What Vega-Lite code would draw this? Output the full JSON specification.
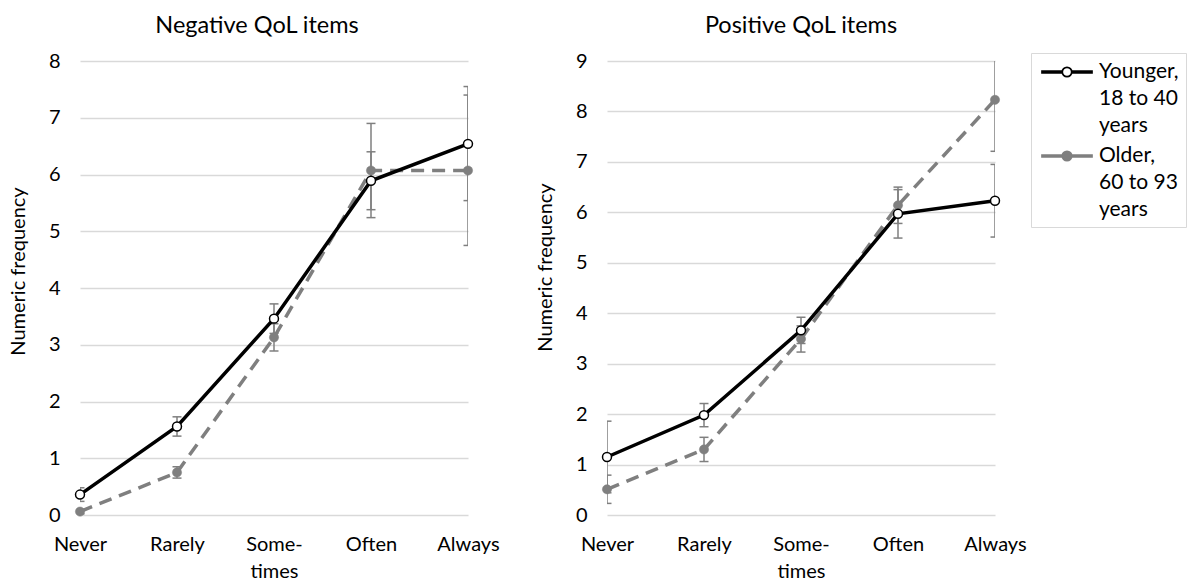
{
  "$schema": "https://vega.github.io/schema/vega-lite/v6.json",
  "padding": {"left": 8, "top": 13, "right": 0, "bottom": 0},
  "background": "#ffffff",
  "data": {"values": [
    {"panel": "Negative", "cat": "Never", "group": "Younger, 18 to 40 years", "value": 0.36, "lower": 0.24, "upper": 0.48},
    {"panel": "Negative", "cat": "Rarely", "group": "Younger, 18 to 40 years", "value": 1.56, "lower": 1.39, "upper": 1.73},
    {"panel": "Negative", "cat": "Sometimes", "group": "Younger, 18 to 40 years", "value": 3.46, "lower": 3.2, "upper": 3.72},
    {"panel": "Negative", "cat": "Often", "group": "Younger, 18 to 40 years", "value": 5.89, "lower": 5.38, "upper": 6.4},
    {"panel": "Negative", "cat": "Always", "group": "Younger, 18 to 40 years", "value": 6.54, "lower": 5.54, "upper": 7.55},
    {"panel": "Negative", "cat": "Never", "group": "Older, 60 to 93 years", "value": 0.06, "lower": 0.02, "upper": 0.1},
    {"panel": "Negative", "cat": "Rarely", "group": "Older, 60 to 93 years", "value": 0.75, "lower": 0.65, "upper": 0.85},
    {"panel": "Negative", "cat": "Sometimes", "group": "Older, 60 to 93 years", "value": 3.13, "lower": 2.89, "upper": 3.37},
    {"panel": "Negative", "cat": "Often", "group": "Older, 60 to 93 years", "value": 6.07, "lower": 5.24, "upper": 6.9},
    {"panel": "Negative", "cat": "Always", "group": "Older, 60 to 93 years", "value": 6.07, "lower": 4.75, "upper": 7.4},
    {"panel": "Positive", "cat": "Never", "group": "Younger, 18 to 40 years", "value": 1.15, "lower": 0.44, "upper": 1.86},
    {"panel": "Positive", "cat": "Rarely", "group": "Younger, 18 to 40 years", "value": 1.98, "lower": 1.75, "upper": 2.21},
    {"panel": "Positive", "cat": "Sometimes", "group": "Younger, 18 to 40 years", "value": 3.66, "lower": 3.4, "upper": 3.92},
    {"panel": "Positive", "cat": "Often", "group": "Younger, 18 to 40 years", "value": 5.97, "lower": 5.49, "upper": 6.45},
    {"panel": "Positive", "cat": "Always", "group": "Younger, 18 to 40 years", "value": 6.23, "lower": 5.51, "upper": 6.95},
    {"panel": "Positive", "cat": "Never", "group": "Older, 60 to 93 years", "value": 0.51, "lower": 0.23, "upper": 0.79},
    {"panel": "Positive", "cat": "Rarely", "group": "Older, 60 to 93 years", "value": 1.3, "lower": 1.06, "upper": 1.54},
    {"panel": "Positive", "cat": "Sometimes", "group": "Older, 60 to 93 years", "value": 3.49, "lower": 3.23, "upper": 3.75},
    {"panel": "Positive", "cat": "Often", "group": "Older, 60 to 93 years", "value": 6.14, "lower": 5.78, "upper": 6.5},
    {"panel": "Positive", "cat": "Always", "group": "Older, 60 to 93 years", "value": 8.23, "lower": 7.21, "upper": 9.25}
  ]},
  "hconcat": [
    {
      "width": 388, "height": 454,
      "title": {"text": "Negative QoL items", "dx": -17},
      "transform": [{"filter": "datum.panel === 'Negative'"}],
      "encoding": {
        "x": {"field": "cat", "type": "ordinal", "sort": ["Never", "Rarely", "Sometimes", "Often", "Always"], "scale": {"type": "point", "padding": 0}, "title": null,
              "axis": {"labelExpr": "datum.value === 'Sometimes' ? ['Some-', 'times'] : datum.value", "labelAngle": 0}}
      },
      "layer": [
        {"mark": {"type": "rule", "color": "#7f7f7f", "strokeWidth": 1.5, "clip": true},
         "encoding": {"y": {"field": "lower", "type": "quantitative", "scale": {"domain": [0, 8], "nice": false}, "title": "Numeric frequency", "axis": {"values": [0, 1, 2, 3, 4, 5, 6, 7, 8], "format": "d", "titleY": 210}}, "y2": {"field": "upper"}}},
        {"mark": {"type": "tick", "color": "#7f7f7f", "thickness": 1.5, "size": 9, "clip": true, "opacity": 1},
         "encoding": {"y": {"field": "lower", "type": "quantitative", "scale": {"domain": [0, 8], "nice": false}, "title": "Numeric frequency", "axis": {"values": [0, 1, 2, 3, 4, 5, 6, 7, 8], "format": "d", "titleY": 210}}}},
        {"mark": {"type": "tick", "color": "#7f7f7f", "thickness": 1.5, "size": 9, "clip": true, "opacity": 1},
         "encoding": {"y": {"field": "upper", "type": "quantitative", "scale": {"domain": [0, 8], "nice": false}, "title": "Numeric frequency", "axis": {"values": [0, 1, 2, 3, 4, 5, 6, 7, 8], "format": "d", "titleY": 210}}}},
        {"transform": [{"filter": "datum.group === 'Older, 60 to 93 years'"}],
         "mark": {"type": "line", "strokeWidth": 3.5, "strokeDash": [13, 8]},
         "encoding": {
           "y": {"field": "value", "type": "quantitative", "scale": {"domain": [0, 8], "nice": false}, "title": "Numeric frequency", "axis": {"values": [0, 1, 2, 3, 4, 5, 6, 7, 8], "format": "d", "titleY": 210}},
           "color": {"field": "group", "type": "nominal", "scale": {"domain": ["Younger, 18 to 40 years", "Older, 60 to 93 years"], "range": ["#000000", "#7f7f7f"]},
             "legend": {"orient": "none", "legendX": 951, "legendY": -8, "title": null,
               "symbolType": "M-2.27,-0.08H-0.43V0.08H-2.27Z M0.43,-0.08H2.27V0.08H0.43Z M0.43,0A0.43,0.43 0 1,1 -0.43,0A0.43,0.43 0 1,1 0.43,0Z",
               "symbolSize": 484, "symbolStrokeWidth": 1.75, "symbolOffset": 17, "labelOffset": 20,
               "labelFont": "Lato", "labelFontSize": 21, "labelColor": "#000000", "labelBaseline": "alphabetic", "labelLimit": 300,
               "labelExpr": "datum.value === 'Younger, 18 to 40 years' ? ['Younger,', '18 to 40', 'years'] : ['Older,', '60 to 93', 'years']",
               "padding": 7, "strokeColor": "#d9d9d9", "fillColor": "#ffffff", "rowPadding": 8,
               "encode": {"labels": {"update": {"lineHeight": {"value": 27}, "dy": {"value": 6}}},
                          "symbols": {"update": {"fill": {"signal": "datum.value === 'Younger, 18 to 40 years' ? '#ffffff' : '#7f7f7f'"}, "opacity": {"value": 1}}}}}}
         }},
        {"transform": [{"filter": "datum.group === 'Younger, 18 to 40 years'"}],
         "mark": {"type": "line", "strokeWidth": 3.5},
         "encoding": {
           "y": {"field": "value", "type": "quantitative", "scale": {"domain": [0, 8], "nice": false}, "title": "Numeric frequency", "axis": {"values": [0, 1, 2, 3, 4, 5, 6, 7, 8], "format": "d", "titleY": 210}},
           "color": {"field": "group", "type": "nominal", "scale": {"domain": ["Younger, 18 to 40 years", "Older, 60 to 93 years"], "range": ["#000000", "#7f7f7f"]},
             "legend": {"orient": "none", "legendX": 951, "legendY": -8, "title": null,
               "symbolType": "M-2.27,-0.08H-0.43V0.08H-2.27Z M0.43,-0.08H2.27V0.08H0.43Z M0.43,0A0.43,0.43 0 1,1 -0.43,0A0.43,0.43 0 1,1 0.43,0Z",
               "symbolSize": 484, "symbolStrokeWidth": 1.75, "symbolOffset": 17, "labelOffset": 20,
               "labelFont": "Lato", "labelFontSize": 21, "labelColor": "#000000", "labelBaseline": "alphabetic", "labelLimit": 300,
               "labelExpr": "datum.value === 'Younger, 18 to 40 years' ? ['Younger,', '18 to 40', 'years'] : ['Older,', '60 to 93', 'years']",
               "padding": 7, "strokeColor": "#d9d9d9", "fillColor": "#ffffff", "rowPadding": 8,
               "encode": {"labels": {"update": {"lineHeight": {"value": 27}, "dy": {"value": 6}}},
                          "symbols": {"update": {"fill": {"signal": "datum.value === 'Younger, 18 to 40 years' ? '#ffffff' : '#7f7f7f'"}, "opacity": {"value": 1}}}}}}
         }},
        {"transform": [{"filter": "datum.group === 'Older, 60 to 93 years'"}],
         "mark": {"type": "point", "filled": true, "size": 85, "fill": "#7f7f7f", "stroke": "#7f7f7f", "strokeWidth": 0.5, "opacity": 1},
         "encoding": {"y": {"field": "value", "type": "quantitative", "scale": {"domain": [0, 8], "nice": false}, "title": "Numeric frequency", "axis": {"values": [0, 1, 2, 3, 4, 5, 6, 7, 8], "format": "d", "titleY": 210}}}},
        {"transform": [{"filter": "datum.group === 'Younger, 18 to 40 years'"}],
         "mark": {"type": "point", "filled": true, "size": 80, "fill": "#ffffff", "stroke": "#000000", "strokeWidth": 1.5, "opacity": 1},
         "encoding": {"y": {"field": "value", "type": "quantitative", "scale": {"domain": [0, 8], "nice": false}, "title": "Numeric frequency", "axis": {"values": [0, 1, 2, 3, 4, 5, 6, 7, 8], "format": "d", "titleY": 210}}}}
      ]
    },
    {
      "width": 388, "height": 454,
      "title": {"text": "Positive QoL items", "dx": 0},
      "transform": [{"filter": "datum.panel === 'Positive'"}],
      "encoding": {
        "x": {"field": "cat", "type": "ordinal", "sort": ["Never", "Rarely", "Sometimes", "Often", "Always"], "scale": {"type": "point", "padding": 0}, "title": null,
              "axis": {"labelExpr": "datum.value === 'Sometimes' ? ['Some-', 'times'] : datum.value", "labelAngle": 0}}
      },
      "layer": [
        {"mark": {"type": "rule", "color": "#7f7f7f", "strokeWidth": 1.5, "clip": true},
         "encoding": {"y": {"field": "lower", "type": "quantitative", "scale": {"domain": [0, 9], "nice": false}, "title": "Numeric frequency", "axis": {"values": [0, 1, 2, 3, 4, 5, 6, 7, 8, 9], "format": "d", "titleY": 206}}, "y2": {"field": "upper"}}},
        {"mark": {"type": "tick", "color": "#7f7f7f", "thickness": 1.5, "size": 9, "clip": true, "opacity": 1},
         "encoding": {"y": {"field": "lower", "type": "quantitative", "scale": {"domain": [0, 9], "nice": false}, "title": "Numeric frequency", "axis": {"values": [0, 1, 2, 3, 4, 5, 6, 7, 8, 9], "format": "d", "titleY": 206}}}},
        {"mark": {"type": "tick", "color": "#7f7f7f", "thickness": 1.5, "size": 9, "clip": true, "opacity": 1},
         "encoding": {"y": {"field": "upper", "type": "quantitative", "scale": {"domain": [0, 9], "nice": false}, "title": "Numeric frequency", "axis": {"values": [0, 1, 2, 3, 4, 5, 6, 7, 8, 9], "format": "d", "titleY": 206}}}},
        {"transform": [{"filter": "datum.group === 'Older, 60 to 93 years'"}],
         "mark": {"type": "line", "strokeWidth": 3.5, "strokeDash": [13, 8]},
         "encoding": {
           "y": {"field": "value", "type": "quantitative", "scale": {"domain": [0, 9], "nice": false}, "title": "Numeric frequency", "axis": {"values": [0, 1, 2, 3, 4, 5, 6, 7, 8, 9], "format": "d", "titleY": 206}},
           "color": {"field": "group", "type": "nominal", "scale": {"domain": ["Younger, 18 to 40 years", "Older, 60 to 93 years"], "range": ["#000000", "#7f7f7f"]},
             "legend": {"orient": "none", "legendX": 951, "legendY": -8, "title": null,
               "symbolType": "M-2.27,-0.08H-0.43V0.08H-2.27Z M0.43,-0.08H2.27V0.08H0.43Z M0.43,0A0.43,0.43 0 1,1 -0.43,0A0.43,0.43 0 1,1 0.43,0Z",
               "symbolSize": 484, "symbolStrokeWidth": 1.75, "symbolOffset": 17, "labelOffset": 20,
               "labelFont": "Lato", "labelFontSize": 21, "labelColor": "#000000", "labelBaseline": "alphabetic", "labelLimit": 300,
               "labelExpr": "datum.value === 'Younger, 18 to 40 years' ? ['Younger,', '18 to 40', 'years'] : ['Older,', '60 to 93', 'years']",
               "padding": 7, "strokeColor": "#d9d9d9", "fillColor": "#ffffff", "rowPadding": 8,
               "encode": {"labels": {"update": {"lineHeight": {"value": 27}, "dy": {"value": 6}}},
                          "symbols": {"update": {"fill": {"signal": "datum.value === 'Younger, 18 to 40 years' ? '#ffffff' : '#7f7f7f'"}, "opacity": {"value": 1}}}}}}
         }},
        {"transform": [{"filter": "datum.group === 'Younger, 18 to 40 years'"}],
         "mark": {"type": "line", "strokeWidth": 3.5},
         "encoding": {
           "y": {"field": "value", "type": "quantitative", "scale": {"domain": [0, 9], "nice": false}, "title": "Numeric frequency", "axis": {"values": [0, 1, 2, 3, 4, 5, 6, 7, 8, 9], "format": "d", "titleY": 206}},
           "color": {"field": "group", "type": "nominal", "scale": {"domain": ["Younger, 18 to 40 years", "Older, 60 to 93 years"], "range": ["#000000", "#7f7f7f"]},
             "legend": {"orient": "none", "legendX": 951, "legendY": -8, "title": null,
               "symbolType": "M-2.27,-0.08H-0.43V0.08H-2.27Z M0.43,-0.08H2.27V0.08H0.43Z M0.43,0A0.43,0.43 0 1,1 -0.43,0A0.43,0.43 0 1,1 0.43,0Z",
               "symbolSize": 484, "symbolStrokeWidth": 1.75, "symbolOffset": 17, "labelOffset": 20,
               "labelFont": "Lato", "labelFontSize": 21, "labelColor": "#000000", "labelBaseline": "alphabetic", "labelLimit": 300,
               "labelExpr": "datum.value === 'Younger, 18 to 40 years' ? ['Younger,', '18 to 40', 'years'] : ['Older,', '60 to 93', 'years']",
               "padding": 7, "strokeColor": "#d9d9d9", "fillColor": "#ffffff", "rowPadding": 8,
               "encode": {"labels": {"update": {"lineHeight": {"value": 27}, "dy": {"value": 6}}},
                          "symbols": {"update": {"fill": {"signal": "datum.value === 'Younger, 18 to 40 years' ? '#ffffff' : '#7f7f7f'"}, "opacity": {"value": 1}}}}}}
         }},
        {"transform": [{"filter": "datum.group === 'Older, 60 to 93 years'"}],
         "mark": {"type": "point", "filled": true, "size": 85, "fill": "#7f7f7f", "stroke": "#7f7f7f", "strokeWidth": 0.5, "opacity": 1},
         "encoding": {"y": {"field": "value", "type": "quantitative", "scale": {"domain": [0, 9], "nice": false}, "title": "Numeric frequency", "axis": {"values": [0, 1, 2, 3, 4, 5, 6, 7, 8, 9], "format": "d", "titleY": 206}}}},
        {"transform": [{"filter": "datum.group === 'Younger, 18 to 40 years'"}],
         "mark": {"type": "point", "filled": true, "size": 80, "fill": "#ffffff", "stroke": "#000000", "strokeWidth": 1.5, "opacity": 1},
         "encoding": {"y": {"field": "value", "type": "quantitative", "scale": {"domain": [0, 9], "nice": false}, "title": "Numeric frequency", "axis": {"values": [0, 1, 2, 3, 4, 5, 6, 7, 8, 9], "format": "d", "titleY": 206}}}}
      ]
    }
  ],
  "spacing": 139,
  "bounds": "flush",
  "resolve": {"scale": {"y": "independent"}},
  "config": {
    "font": "Lato",
    "view": {"stroke": null},
    "title": {"font": "Lato", "fontSize": 23.5, "fontWeight": "normal", "color": "#000000", "offset": 14, "frame": "group", "anchor": "middle"},
    "axis": {"labelFont": "Lato", "labelFontSize": 20, "labelColor": "#000000", "titleFont": "Lato", "titleFontSize": 20, "titleFontWeight": "normal", "titleColor": "#000000",
             "ticks": false, "tickSize": 0, "domain": false},
    "axisX": {"grid": false, "labelPadding": 19, "labelLineHeight": 27},
    "axisY": {"grid": true, "gridColor": "#d9d9d9", "gridWidth": 1.3, "labelPadding": 20, "titlePadding": 20}
  }
}
